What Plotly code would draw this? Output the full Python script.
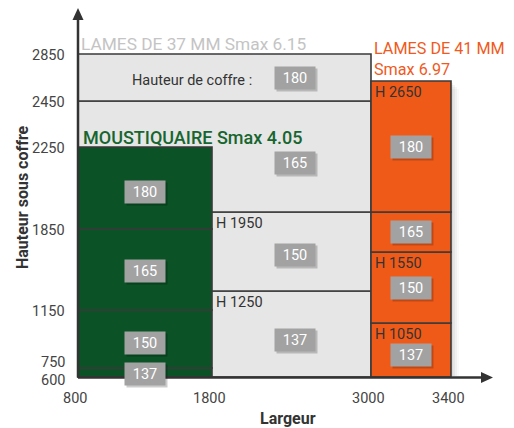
import numpy as np
import plotly.graph_objects as go

# ---------------- data ----------------
x_ticks = [800, 1800, 3000, 3400]
y_ticks = [600, 750, 1150, 1850, 2250, 2450, 2850]

# LAMES DE 37 MM (grey) : width 800-3000, height bands and coffre heights
grey_x = [800, 3000]
grey_bounds = [600, 1250, 1950, 2450, 2850]
grey_labels = ["137", "150", "165", "180"]
grey_h_marks = [1950, 1250]

# MOUSTIQUAIRE (green) : width 800-1800
green_x = [800, 1800]
green_bounds = [600, 750, 1150, 1850, 2250]
green_labels = ["137", "150", "165", "180"]

# LAMES DE 41 MM (orange) : width 3000-3400
orange_x = [3000, 3400]
orange_bounds = [600, 1050, 1550, 1950, 2650]
orange_labels = ["137", "150", "165", "180"]
orange_h_marks = [2650, 1550, 1050]

# hand-drawn (non-linear) scale of the original diagram: value -> position
X_SCALE_VAL = [800, 1800, 3000, 3400]
X_SCALE_POS = [78, 212, 371, 451]
Y_SCALE_VAL = [600, 750, 1050, 1150, 1250, 1550, 1850, 1950, 2250, 2450, 2650, 2850]
Y_SCALE_POS = [377, 368, 323, 310, 291, 252, 229, 212, 147, 101, 81, 54]


def sx(v):
    return float(np.interp(v, X_SCALE_VAL, X_SCALE_POS))


def sy(v):
    return float(np.interp(v, Y_SCALE_VAL, Y_SCALE_POS))


# ---------------- style ----------------
FONT = "Roboto"
EDGE = "#3a3a3a"
GREY_FILL = "#e6e6e6"
GREEN_FILL = "#0b5226"
ORANGE_FILL = "#f05a19"
BOX_FILL = "#a2a2a2"
TXT = "#444444"

fig = go.Figure()
shapes = []
ann = []

# soft shadow on orange column
for k, a in [(8, 0.025), (6, 0.035), (4, 0.045), (2, 0.05)]:
    shapes.append(dict(type="rect", x0=sx(orange_x[0]) + k, x1=sx(orange_x[1]) + k,
                       y0=sy(orange_bounds[-1]) + k, y1=sy(orange_bounds[0]) - 1,
                       fillcolor=f"rgba(0,0,0,{a})", line=dict(width=0), layer="below"))


def column(xr, bounds, fill):
    for lo, hi in zip(bounds[:-1], bounds[1:]):
        shapes.append(dict(type="rect", x0=sx(xr[0]), x1=sx(xr[1]), y0=sy(hi), y1=sy(lo),
                           fillcolor=fill, line=dict(color=EDGE, width=1.6), layer="above"))


column(grey_x, grey_bounds, GREY_FILL)
column(green_x, green_bounds, GREEN_FILL)
column(orange_x, orange_bounds, ORANGE_FILL)


def box(x, y, text):
    ann.append(dict(x=x, y=y, xshift=2, yshift=-2, text="", showarrow=False,
                    width=38, height=20, bgcolor="rgba(0,0,0,0.2)", xref="x", yref="y"))
    ann.append(dict(x=x, y=y, text=text, showarrow=False, width=38, height=20,
                    bgcolor=BOX_FILL, font=dict(family=FONT, size=14.5, color="white"),
                    xref="x", yref="y"))


# grey column labels (visible part 1800-3000)
grey_shift = [6, 3, 6, 0]
for (lo, hi), lab, dy in zip(zip(grey_bounds[:-1], grey_bounds[1:]), grey_labels, grey_shift):
    box((sx(1800) + sx(grey_x[1])) / 2 + 3, (sy(lo) + sy(hi)) / 2 + dy, lab)

green_shift = [1, 4, 1, 4]
for (lo, hi), lab, dy in zip(zip(green_bounds[:-1], green_bounds[1:]), green_labels, green_shift):
    box((sx(green_x[0]) + sx(green_x[1])) / 2, (sy(lo) + sy(hi)) / 2 + dy, lab)

orange_shift = [5, 0, 0, 0]
for (lo, hi), lab, dy in zip(zip(orange_bounds[:-1], orange_bounds[1:]), orange_labels, orange_shift):
    box((sx(orange_x[0]) + sx(orange_x[1])) / 2, (sy(lo) + sy(hi)) / 2 + dy, lab)

# H marks
for h in grey_h_marks:
    ann.append(dict(x=sx(1800) + 2, y=sy(h) + 1, text=f"H {h}", showarrow=False,
                    xanchor="left", yanchor="top", font=dict(family=FONT, size=14.5, color="#333")))
for h in orange_h_marks:
    ann.append(dict(x=sx(orange_x[0]) + 2, y=sy(h) + 1, text=f"H {h}", showarrow=False,
                    xanchor="left", yanchor="top", font=dict(family=FONT, size=14.5, color="#333")))

ann.append(dict(x=254, y=sy(2650) - 1, text="Hauteur de coffre :", showarrow=False,
                xanchor="right", font=dict(family=FONT, size=14.5, color="#333")))

# titles
ann.append(dict(x=79, y=44, text="LAMES DE 37 MM Smax 6.15", showarrow=False, xanchor="left",
                font=dict(family=FONT, size=17.3, color="#c4c4c4")))
ann.append(dict(x=81, y=137, text="MOUSTIQUAIRE Smax 4.05", showarrow=False, xanchor="left",
                font=dict(family=FONT, size=18, color="#17652f", weight=500)))
ann.append(dict(x=372, y=59, text="LAMES DE 41 MM<br>Smax 6.97", showarrow=False,
                xanchor="left", align="left",
                font=dict(family=FONT, size=16.2, color="#f05a1e")))

# axis lines + arrows
shapes.append(dict(type="line", x0=78, x1=484, y0=377.5, y1=377.5, line=dict(color="#333", width=2.5)))
shapes.append(dict(type="line", x0=78, y0=377.5, x1=78, y1=18, line=dict(color="#333", width=2.5)))
shapes.append(dict(type="path", path="M 481 372 L 493 377.5 L 481 383 Z", fillcolor="#333",
                   line=dict(width=0)))
shapes.append(dict(type="path", path="M 72.5 20 L 78 8 L 83.5 20 Z", fillcolor="#333",
                   line=dict(width=0)))

# tick labels
for v in x_ticks:
    ann.append(dict(x=sx(v) - 3, y=398, text=str(v), showarrow=False,
                    font=dict(family=FONT, size=14.5, color=TXT)))
y_label_shift = {750: -7, 600: 2}
for v in y_ticks:
    ann.append(dict(x=67, y=sy(v) + y_label_shift.get(v, 0) + 1, text=str(v), showarrow=False,
                    xanchor="right", font=dict(family=FONT, size=14.5, color=TXT)))

# axis titles
ann.append(dict(x=288, y=418, text="<b>Largeur</b>", showarrow=False,
                font=dict(family=FONT, size=16, color="#333")))
ann.append(dict(x=22, y=197, text="<b>Hauteur sous coffre</b>", showarrow=False, textangle=-90,
                font=dict(family=FONT, size=16, color="#333")))

for a in ann:
    a.setdefault("xref", "x")
    a.setdefault("yref", "y")

# the page body keeps an 8px margin: the figure fills the rest of the window
fig.update_layout(
    width=506, height=420,
    margin=dict(l=0, r=0, t=0, b=0),
    paper_bgcolor="white", plot_bgcolor="white",
    xaxis=dict(range=[8, 514], visible=False, fixedrange=True),
    yaxis=dict(range=[428, 8], visible=False, fixedrange=True),
    shapes=shapes, annotations=ann, showlegend=False,
)
fig.write_html("out.html")
